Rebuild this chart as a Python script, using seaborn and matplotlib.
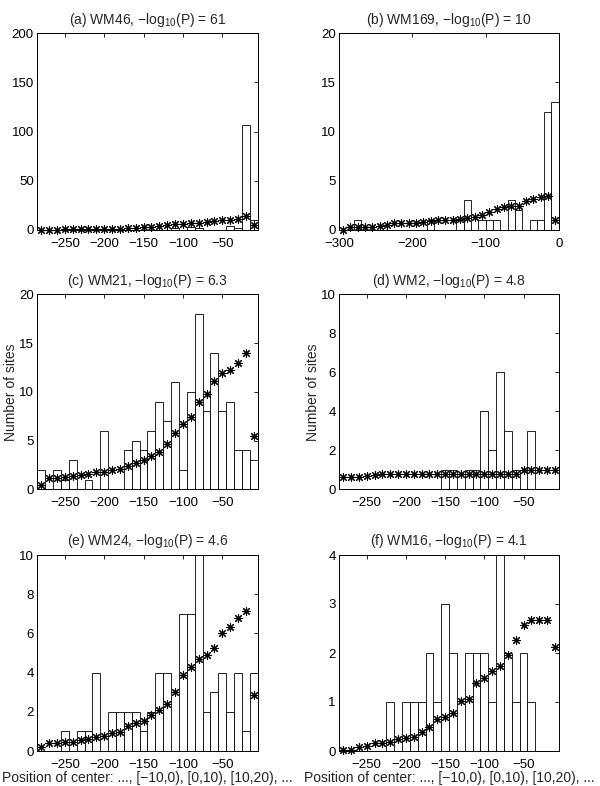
import numpy as np
import pandas as pd
import matplotlib
matplotlib.use("Agg")
import matplotlib.pyplot as plt
import seaborn as sns

sns.set_style("white")
plt.rcParams['font.family'] = ['Liberation Sans', 'DejaVu Sans']
plt.rcParams['mathtext.default'] = 'regular'

# ---------------- data ----------------
centers28 = list(range(-280, 0, 10))      # bin centres, panels a, c-f
centers30 = list(range(-295, 0, 10))      # bin centres, panel b

a_counts = [0, 0, 0, 0, 0, 0, 0, 0, 0, 0, 0, 0, 0, 0, 0, 0, 0, 2, 0, 3, 2, 0, 0, 0, 4, 2, 107, 10]
a_exp = [0.3, 0.4, 0.5, 0.6, 0.6, 0.7, 0.7, 0.8, 1.0, 1.1, 1.3, 1.6, 2.0, 2.7, 3.3, 4.0, 4.8, 5.6,
         6.3, 6.9, 7.6, 8.3, 9.1, 9.8, 10.4, 11.2, 14.0, 5.2]

b_counts = [0, 0, 1, 0, 0, 0, 0, 0, 0, 0, 0, 0, 1, 0, 0, 0, 1, 3, 0, 1, 1, 1, 0, 3, 2, 0, 1, 1, 12, 13]
b_exp = [0.05, 0.3, 0.3, 0.3, 0.35, 0.4, 0.5, 0.7, 0.7, 0.7, 0.7, 0.85, 0.95, 1.0, 1.0, 1.0, 1.1, 1.2,
         1.3, 1.5, 1.8, 2.1, 2.3, 2.4, 2.4, 2.95, 3.15, 3.4, 3.45, 1.0]

c_counts = [2, 0, 2, 1, 3, 0, 1, 0, 6, 0, 0, 4, 5, 4, 6, 9, 7, 11, 2, 10, 18, 8, 14, 8, 9, 4, 4, 3]
c_exp = [0.45, 1.13, 1.13, 1.3, 1.4, 1.47, 1.54, 1.74, 1.81, 2.0, 2.05, 2.4, 2.67, 3.0, 3.45, 3.8, 4.6,
         5.8, 6.67, 7.45, 9.0, 9.8, 11.15, 11.9, 12.24, 13.0, 13.95, 5.5]

d_counts = [0, 0, 0, 0, 0, 0, 0, 0, 0, 0, 0, 0, 0, 1, 1, 0, 1, 1, 4, 2, 6, 3, 1, 0, 3, 0, 0, 0]
d_exp = [0.62, 0.62, 0.62, 0.68, 0.75, 0.8, 0.8, 0.8, 0.8, 0.8, 0.8, 0.8, 0.8, 0.8, 0.8, 0.8, 0.8,
         0.8, 0.8, 0.8, 0.8, 0.8, 0.8, 0.97, 1.0, 1.0, 1.0, 1.0]

e_counts = [0, 0, 0, 1, 0, 1, 1, 4, 0, 2, 2, 2, 2, 1, 2, 4, 4, 0, 7, 7, 10, 2, 3, 4, 2, 4, 1, 4]
e_exp = [0.2, 0.42, 0.42, 0.45, 0.48, 0.55, 0.62, 0.72, 0.78, 0.9, 0.95, 1.28, 1.45, 1.55, 1.85, 2.07,
         2.4, 3.0, 3.9, 4.3, 4.7, 4.9, 5.25, 6.0, 6.35, 6.8, 7.15, 2.85]

f_counts = [0, 0, 0, 0, 0, 0, 1, 0, 1, 1, 1, 2, 1, 3, 2, 0, 2, 2, 2, 1, 4, 2, 1, 2, 1, 0, 0, 0]
f_exp = [0.02, 0.02, 0.09, 0.11, 0.16, 0.16, 0.19, 0.24, 0.26, 0.29, 0.38, 0.48, 0.65, 0.7, 0.78, 1.03,
         1.06, 1.38, 1.5, 1.64, 1.74, 1.95, 2.27, 2.57, 2.67, 2.67, 2.67, 2.13]

titles = ["(a) WM46, \u2212log$_{10}$(P) = 61",
          "(b) WM169, \u2212log$_{10}$(P) = 10",
          "(c) WM21, \u2212log$_{10}$(P) = 6.3",
          "(d) WM2, \u2212log$_{10}$(P) = 4.8",
          "(e) WM24, \u2212log$_{10}$(P) = 4.6",
          "(f) WM16, \u2212log$_{10}$(P) = 4.1"]
ylabel_text = "Number of sites"
xlabel_text = "Position of center: ..., [\u221210,0), [0,10), [10,20), ..."

# ---------------- figure ----------------
W, H = 600, 786
fig = plt.figure(figsize=(W / 100, H / 100), dpi=100)

def box(l, t, r, b):
    return [l / W, 1 - b / H, (r - l) / W, (b - t) / H]

cols = [(37.3, 257.7), (339.3, 558.8)]
rows = [(33.3, 230.0), (294.3, 489.3), (555.0, 751.0)]

panels = [
    (centers28, a_counts, a_exp, (-285, -5), (0, 200), [0, 50, 100, 150, 200], [-250, -200, -150, -100, -50]),
    (centers30, b_counts, b_exp, (-300, 0), (0, 20), [0, 5, 10, 15, 20], [-300, -200, -100, 0]),
    (centers28, c_counts, c_exp, (-285, -5), (0, 20), [0, 5, 10, 15, 20], [-250, -200, -150, -100, -50]),
    (centers28, d_counts, d_exp, (-285, -5), (0, 10), [0, 2, 4, 6, 8, 10], [-250, -200, -150, -100, -50]),
    (centers28, e_counts, e_exp, (-285, -5), (0, 10), [0, 2, 4, 6, 8, 10], [-250, -200, -150, -100, -50]),
    (centers28, f_counts, f_exp, (-285, -5), (0, 4), [0, 1, 2, 3, 4], [-250, -200, -150, -100, -50]),
]

for i, (centers, counts, expv, xl, yl, yt, xt) in enumerate(panels):
    r, c = divmod(i, 2)
    ax = fig.add_axes(box(cols[c][0], rows[r][0], cols[c][1], rows[r][1]))
    edges = [v - 5 for v in centers] + [centers[-1] + 5]
    sns.histplot(x=centers, weights=counts, bins=edges, color='white', edgecolor='black',
                 linewidth=0.6, alpha=1, ax=ax)
    sns.scatterplot(x=centers, y=expv, marker=(8, 2, 0), s=32, color='black',
                    linewidth=0.8, ax=ax, zorder=5, clip_on=False)
    ax.set_xlim(*xl)
    ax.set_ylim(*yl)
    ax.set_xticks(xt)
    ax.set_yticks(yt)
    ax.tick_params(direction='in', length=3, width=0.6, top=True, right=True,
                   labelsize=9.5, colors='black')
    ax.tick_params(axis='x', pad=5.5)
    ax.tick_params(axis='y', pad=2.5)
    for s in ax.spines.values():
        s.set_linewidth(0.7)
        s.set_color('black')
        s.set_visible(True)
    ax.set_title(titles[i], fontsize=10, pad=7)
    ax.set_ylabel(ylabel_text if r == 1 else '', fontsize=10, labelpad=0.5)
    ax.set_xlabel(xlabel_text if r == 2 else '', fontsize=10, labelpad=0)

fig.savefig("out.png", dpi=100)
